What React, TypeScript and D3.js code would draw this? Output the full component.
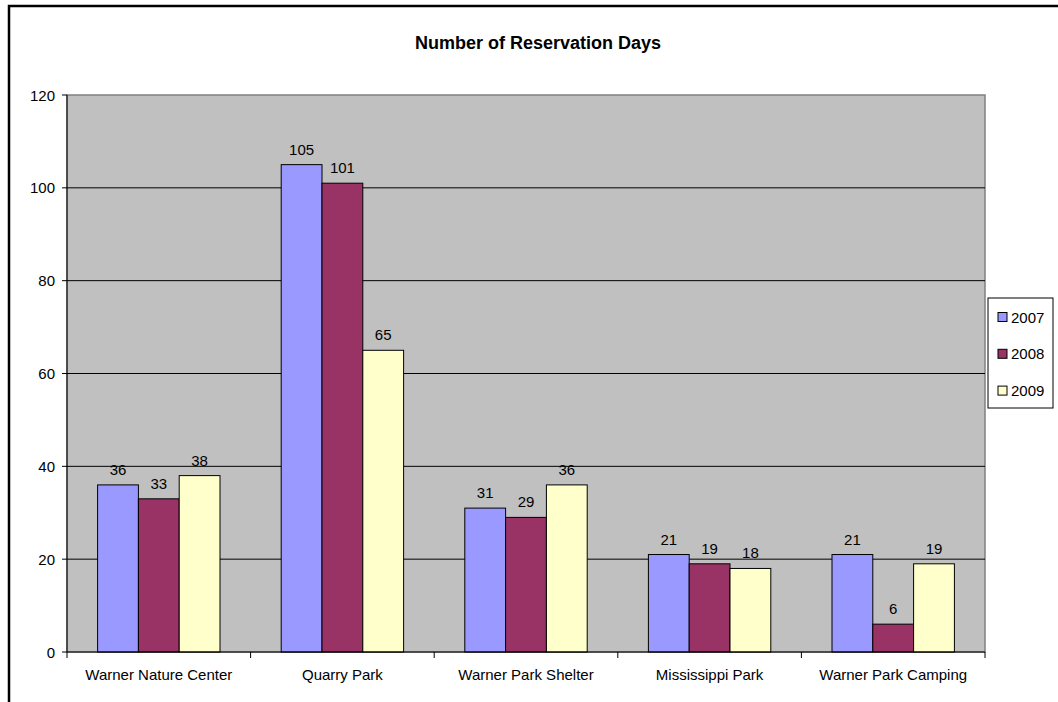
import React from "react";
import * as d3 from "d3";

const categories = ["Warner Nature Center", "Quarry Park", "Warner Park Shelter", "Mississippi Park", "Warner Park Camping"];
const seriesNames = ["2007", "2008", "2009"];
const values2007 = [36, 105, 31, 21, 21];
const values2008 = [33, 101, 29, 19, 6];
const values2009 = [38, 65, 36, 18, 19];
const yTicks = [0, 20, 40, 60, 80, 100, 120];
const colors = ["#9999FF", "#993366", "#FFFFCC"];

const W = 1058, H = 702;
const plot = { left: 67, top: 95, right: 985, bottom: 652 };
const font = "Liberation Sans, Arial, sans-serif";

export default function App() {
  const series = [values2007, values2008, values2009];
  const x0 = d3.scaleBand().domain(categories).range([plot.left, plot.right]).paddingInner(0).paddingOuter(0);
  const inner = d3.scaleBand().domain(seriesNames).range([0, x0.bandwidth()]).paddingInner(0).paddingOuter(0.75);
  const y = d3.scaleLinear().domain([0, 120]).range([plot.bottom, plot.top]);
  const boundaries = d3.range(categories.length + 1).map((i) => plot.left + i * x0.step());

  return (
    <svg width={W} height={H} style={{ position: "absolute", left: 0, top: 0, background: "#fff" }}>
      <rect x={9} y={6} width={1100} height={800} fill="#fff" stroke="#000" strokeWidth={2.5} />
      <text x={538} y={49} textAnchor="middle" fontFamily={font} fontWeight="bold" fontSize={18}>Number of Reservation Days</text>
      <rect x={plot.left} y={plot.top} width={plot.right - plot.left} height={plot.bottom - plot.top} fill="#C0C0C0" stroke="#808080" strokeWidth={1.5} />
      {yTicks.filter((t) => t > 0 && t < 120).map((t) => (
        <line key={t} x1={plot.left} x2={plot.right} y1={y(t)} y2={y(t)} stroke="#000" strokeWidth={1} />
      ))}
      {categories.map((c, ci) =>
        series.map((vals, si) => {
          const bx = (x0(c) as number) + (inner(seriesNames[si]) as number);
          return (
            <g key={c + si}>
              <rect x={bx} y={y(vals[ci])} width={inner.bandwidth()} height={plot.bottom - y(vals[ci])} fill={colors[si]} stroke="#000" strokeWidth={1} />
              <text x={bx + inner.bandwidth() / 2} y={y(vals[ci]) - 10} textAnchor="middle" fontFamily={font} fontSize={15}>{vals[ci]}</text>
            </g>
          );
        })
      )}
      <line x1={plot.left} x2={plot.left} y1={plot.top} y2={plot.bottom} stroke="#000" strokeWidth={1} />
      <line x1={plot.left} x2={plot.right} y1={plot.bottom} y2={plot.bottom} stroke="#000" strokeWidth={1} />
      {yTicks.map((t) => (
        <g key={t}>
          <line x1={plot.left - 5} x2={plot.left} y1={y(t)} y2={y(t)} stroke="#000" />
          <text x={plot.left - 12} y={y(t) + 5.5} textAnchor="end" fontFamily={font} fontSize={15}>{t}</text>
        </g>
      ))}
      {boundaries.map((bx, i) => (
        <line key={i} x1={bx} x2={bx} y1={plot.bottom} y2={plot.bottom + 6} stroke="#000" />
      ))}
      {categories.map((c) => (
        <text key={c} x={(x0(c) as number) + x0.bandwidth() / 2} y={680} textAnchor="middle" fontFamily={font} fontSize={15}>{c}</text>
      ))}
      <rect x={988} y={298} width={65} height={110} fill="#fff" stroke="#000" strokeWidth={1} />
      {seriesNames.map((s, i) => (
        <g key={s}>
          <rect x={998} y={312.5 + i * 36.8} width={9} height={9} fill={colors[i]} stroke="#000" strokeWidth={1} />
          <text x={1011} y={322.5 + i * 36.8} fontFamily={font} fontSize={15}>{s}</text>
        </g>
      ))}
    </svg>
  );
}
